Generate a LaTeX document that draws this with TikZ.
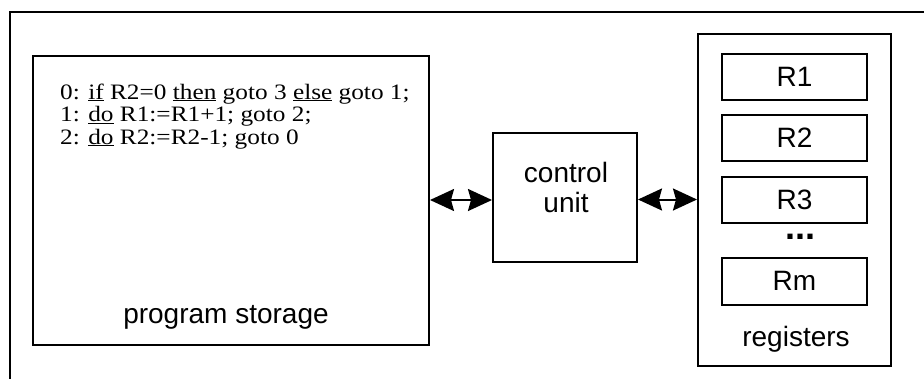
\documentclass[tikz,border=0pt]{standalone}
\usepackage{fontspec}
\usetikzlibrary{arrows.meta}
\newfontfamily\progfont{Liberation Serif}[FakeStretch=1.15]
\newfontfamily\labelfont{Liberation Sans}

\tikzset{
  box/.style={draw, line width=2pt, inner sep=0pt, minimum width=#1},
  regbox/.style={box=145pt, minimum height=46pt, font=\labelfont\fontsize{28}{30}\selectfont},
  lbl/.style={inner sep=0pt, font=\labelfont\fontsize{28}{30}\selectfont},
  codeline/.style={inner sep=0pt, anchor=base west, font=\progfont\fontsize{22}{22.5}\selectfont},
  biarrow/.style={line width=2pt, {Stealth[length=24pt,width=22pt,inset=3pt]}-{Stealth[length=24pt,width=22pt,inset=3pt]}}
}

\begin{document}
\begin{tikzpicture}[x=1pt, y=-1pt]
  \useasboundingbox (0,0) rectangle (924,378);
  \fill[white] (0,0) rectangle (924,378);

  % surrounding frame, running off the right and bottom edges
  \coordinate (frameBL) at (10,390);
  \coordinate (frameTR) at (940,11.5);
  \draw[line width=2pt] (frameBL) |- (frameTR);

  % program storage
  \node[box=396pt, minimum height=289pt] (prog) at (231,200) {};
  \node[codeline] (l0) at (60,99) {0: \underline{if} R2=0 \underline{then} goto 3 \underline{else} goto 1;};
  \node[codeline] (l1) at (60,121.5) {1: \underline{do} R1:=R1+1; goto 2;};
  \node[codeline] (l2) at (60,144) {2: \underline{do} R2:=R2-1; goto 0};
  \node[lbl, anchor=base] (progname) at (226,323) {program storage};

  % control unit
  \node[box=144pt, minimum height=129pt] (ctrl) at (565,197.5) {};
  \node[lbl, align=center] (ctrlname) at (566,187) {control\\unit};

  % registers
  \node[box=193pt, minimum height=332pt] (regs) at (794.5,199.5) {};
  \node[regbox] (r1) at (794.5,76.5) {R1};
  \node[regbox] (r2) at (794.5,137.5) {R2};
  \node[regbox] (r3) at (794.5,199.5) {R3};
  \node[lbl, anchor=base, text height=6pt, text depth=0pt,
        font=\labelfont\bfseries\fontsize{36}{36}\selectfont] (dots) at (800,239) {...};
  \node[regbox, minimum height=47pt] (rm) at (794.5,281) {Rm};
  \node[lbl, anchor=base] (regname) at (796,346) {registers};

  % connections
  \draw[biarrow] (prog.east) -- (prog.east -| ctrl.west);
  \draw[biarrow] (ctrl.east |- regs.west) -- (regs.west);
\end{tikzpicture}
\end{document}
